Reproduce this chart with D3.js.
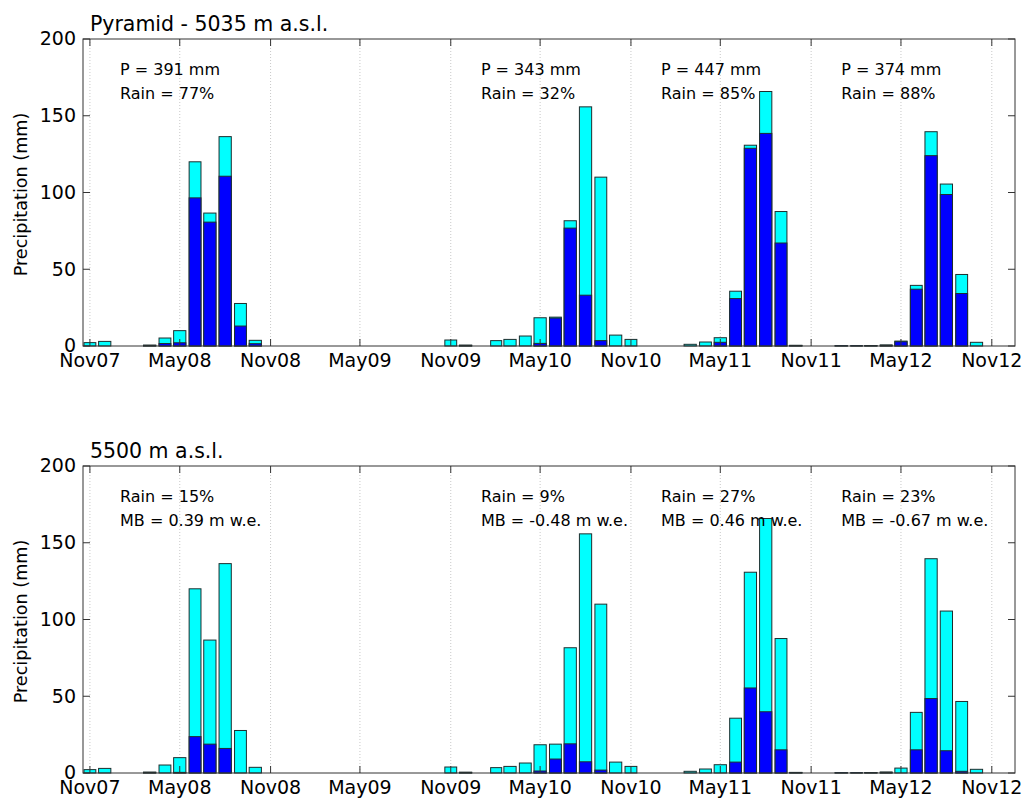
<!DOCTYPE html>
<html>
<head>
    <meta charset="utf-8" />
    <title>Monthly precipitation</title>
    <style>
        body { margin: 0; background: #ffffff; }
        text { font-family: 'DejaVu Sans', sans-serif; fill: #000000; }
        .grid line { stroke: #c8c8c8; stroke-width: 1px; stroke-dasharray: 1,2; }
        .frame { fill: none; stroke: #333333; stroke-width: 1px; }
        .tick-mark { stroke: #333333; stroke-width: 1px; }
        .bar { stroke: #1e2e2e; stroke-width: 1px; }
    </style>
    <script src="https://cdn.jsdelivr.net/npm/d3@7/dist/d3.min.js"></script>
</head>
<body>
    <svg width="1024" height="800"></svg>

    <script>
        // monthly totals (mm), Nov07 .. Nov12
        var total = [
            2.2, 3.0, 0, 0, 0.5, 5.2, 10, 120, 86.6, 136.4, 27.7, 3.7,
            0, 0, 0, 0, 0, 0, 0, 0, 0, 0, 0, 0,
            3.9, 0.5, 0, 3.5, 4.3, 6.5, 18.4, 18.8, 81.6, 155.8, 110, 7.1,
            4.3, 0, 0, 0, 1.1, 2.6, 5.4, 35.7, 130.8, 165.8, 87.6, 0.4,
            0, 0, 0.2, 0.2, 0.3, 0.6, 3.2, 39.5, 139.6, 105.5, 46.6, 2.4,
            0
        ];
        // rain part at the station (5035 m)
        var rainLow = [
            0, 0, 0, 0, 0.5, 1.6, 2.1, 96.5, 80.7, 110.6, 13, 1.5,
            0, 0, 0, 0, 0, 0, 0, 0, 0, 0, 0, 0,
            0, 0.5, 0, 0, 0, 0, 1.7, 18.2, 76.8, 33.1, 3.5, 0,
            0, 0, 0, 0, 0, 0, 2.4, 30.9, 128.8, 138.5, 67.1, 0.4,
            0, 0, 0.2, 0.2, 0.3, 0.6, 2.8, 37, 124, 98.7, 34.2, 0,
            0
        ];
        // rain part at 5500 m
        var rainHigh = [
            0, 0, 0, 0, 0.5, 0, 0.4, 23.7, 18.8, 16, 0, 0,
            0, 0, 0, 0, 0, 0, 0, 0, 0, 0, 0, 0,
            0, 0.4, 0, 0, 0, 0, 1.3, 9.1, 19, 7.3, 1.9, 0,
            0, 0, 0, 0, 0, 0, 0, 7.1, 55.4, 39.9, 15.1, 0.3,
            0, 0, 0.2, 0.2, 0.3, 0.5, 0, 15.1, 48.5, 14.5, 1.1, 0,
            0
        ];

        var panelTitles = ['Pyramid - 5035 m a.s.l.', '5500 m a.s.l.'];
        var noteYears = [2008, 2010, 2011, 2012];
        var notesLow = [
            ['P = 391 mm', 'Rain = 77%'],
            ['P = 343 mm', 'Rain = 32%'],
            ['P = 447 mm', 'Rain = 85%'],
            ['P = 374 mm', 'Rain = 88%']
        ];
        var notesHigh = [
            ['Rain = 15%', 'MB = 0.39 m w.e.'],
            ['Rain = 9%', 'MB = -0.48 m w.e.'],
            ['Rain = 27%', 'MB = 0.46 m w.e.'],
            ['Rain = 23%', 'MB = -0.67 m w.e.']
        ];
        var yTicks = [0, 50, 100, 150, 200];

        var months = d3.utcMonths(new Date(Date.UTC(2007, 10, 1)), new Date(Date.UTC(2012, 11, 1)));
        var tickDates = d3.utcMonths(new Date(Date.UTC(2007, 10, 1)), new Date(Date.UTC(2012, 11, 1)), 6);
        var fmt = d3.utcFormat('%b%y');

        var svg = d3.select('svg'),
            left = 83, right = 1015;

        var x = d3.scaleUtc()
            .domain([new Date(Date.UTC(2007, 9, 18)), new Date(Date.UTC(2012, 11, 18))])
            .range([left, right]);

        var panels = [
            { top: 39, bottom: 346, rain: rainLow, notes: notesLow, title: panelTitles[0] },
            { top: 466, bottom: 773, rain: rainHigh, notes: notesHigh, title: panelTitles[1] }
        ];

        panels.forEach(function(p) {
            var y = d3.scaleLinear().domain([0, 200]).range([p.bottom, p.top]);
            var g = svg.append('g');

            // vertical dotted grid
            g.append('g').attr('class', 'grid')
                .selectAll('line').data(tickDates).enter().append('line')
                .attr('x1', x).attr('x2', x)
                .attr('y1', p.top).attr('y2', p.bottom);

            function barW(d) {
                return 0.8 * (x(d3.utcMonth.offset(d, 1)) - x(d));
            }

            g.selectAll('.bar-total').data(months).enter().append('rect')
                .attr('class', 'bar bar-total')
                .attr('x', function(d) { return x(d) - barW(d) / 2; })
                .attr('width', barW)
                .attr('y', function(d, i) { return y(total[i]); })
                .attr('height', function(d, i) { return y(0) - y(total[i]); })
                .attr('fill', '#00ffff')
                .style('display', function(d, i) { return total[i] > 0 ? null : 'none'; });

            g.selectAll('.bar-rain').data(months).enter().append('rect')
                .attr('class', 'bar bar-rain')
                .attr('x', function(d) { return x(d) - barW(d) / 2; })
                .attr('width', barW)
                .attr('y', function(d, i) { return y(p.rain[i]); })
                .attr('height', function(d, i) { return y(0) - y(p.rain[i]); })
                .attr('fill', '#0000ff')
                .style('display', function(d, i) { return p.rain[i] > 0 ? null : 'none'; });

            // box
            g.append('rect').attr('class', 'frame')
                .attr('x', left).attr('y', p.top)
                .attr('width', right - left).attr('height', p.bottom - p.top);

            // x ticks (inside, bottom and top)
            var xt = g.append('g');
            xt.selectAll('.xb').data(tickDates).enter().append('line')
                .attr('class', 'tick-mark')
                .attr('x1', x).attr('x2', x)
                .attr('y1', p.bottom).attr('y2', p.bottom - 7);
            xt.selectAll('.xt').data(tickDates).enter().append('line')
                .attr('class', 'tick-mark')
                .attr('x1', x).attr('x2', x)
                .attr('y1', p.top).attr('y2', p.top + 7);
            xt.selectAll('text').data(tickDates).enter().append('text')
                .attr('x', x)
                .attr('y', p.bottom + 21)
                .attr('text-anchor', 'middle')
                .style('font-size', '19px')
                .text(fmt);

            // y ticks (inside, left and right)
            var yt = g.append('g');
            yt.selectAll('.yl').data(yTicks).enter().append('line')
                .attr('class', 'tick-mark')
                .attr('x1', left).attr('x2', left + 7)
                .attr('y1', y).attr('y2', y);
            yt.selectAll('.yr').data(yTicks).enter().append('line')
                .attr('class', 'tick-mark')
                .attr('x1', right).attr('x2', right - 7)
                .attr('y1', y).attr('y2', y);
            yt.selectAll('text').data(yTicks).enter().append('text')
                .attr('x', left - 7)
                .attr('y', y)
                .attr('dy', '0.33em')
                .attr('text-anchor', 'end')
                .style('font-size', '19px')
                .text(function(d) { return d; });

            // axis label
            g.append('text')
                .attr('transform', 'translate(27,' + ((p.top + p.bottom) / 2 + 2) + ') rotate(-90)')
                .attr('text-anchor', 'middle')
                .style('font-size', '17.6px')
                .text('Precipitation (mm)');

            // panel title
            g.append('text')
                .attr('x', x(tickDates[0]))
                .attr('y', p.top - 8)
                .style('font-size', '20.5px')
                .text(p.title);

            // yearly notes
            var notes = g.selectAll('.note').data(noteYears).enter().append('text')
                .attr('class', 'note')
                .style('font-size', '16px');
            notes.append('tspan')
                .attr('x', function(d) { return x(new Date(Date.UTC(d, 0, 1))); })
                .attr('y', y(176.5))
                .text(function(d, i) { return p.notes[i][0]; });
            notes.append('tspan')
                .attr('x', function(d) { return x(new Date(Date.UTC(d, 0, 1))); })
                .attr('y', y(161))
                .text(function(d, i) { return p.notes[i][1]; });
        });
    </script>
</body>
</html>
